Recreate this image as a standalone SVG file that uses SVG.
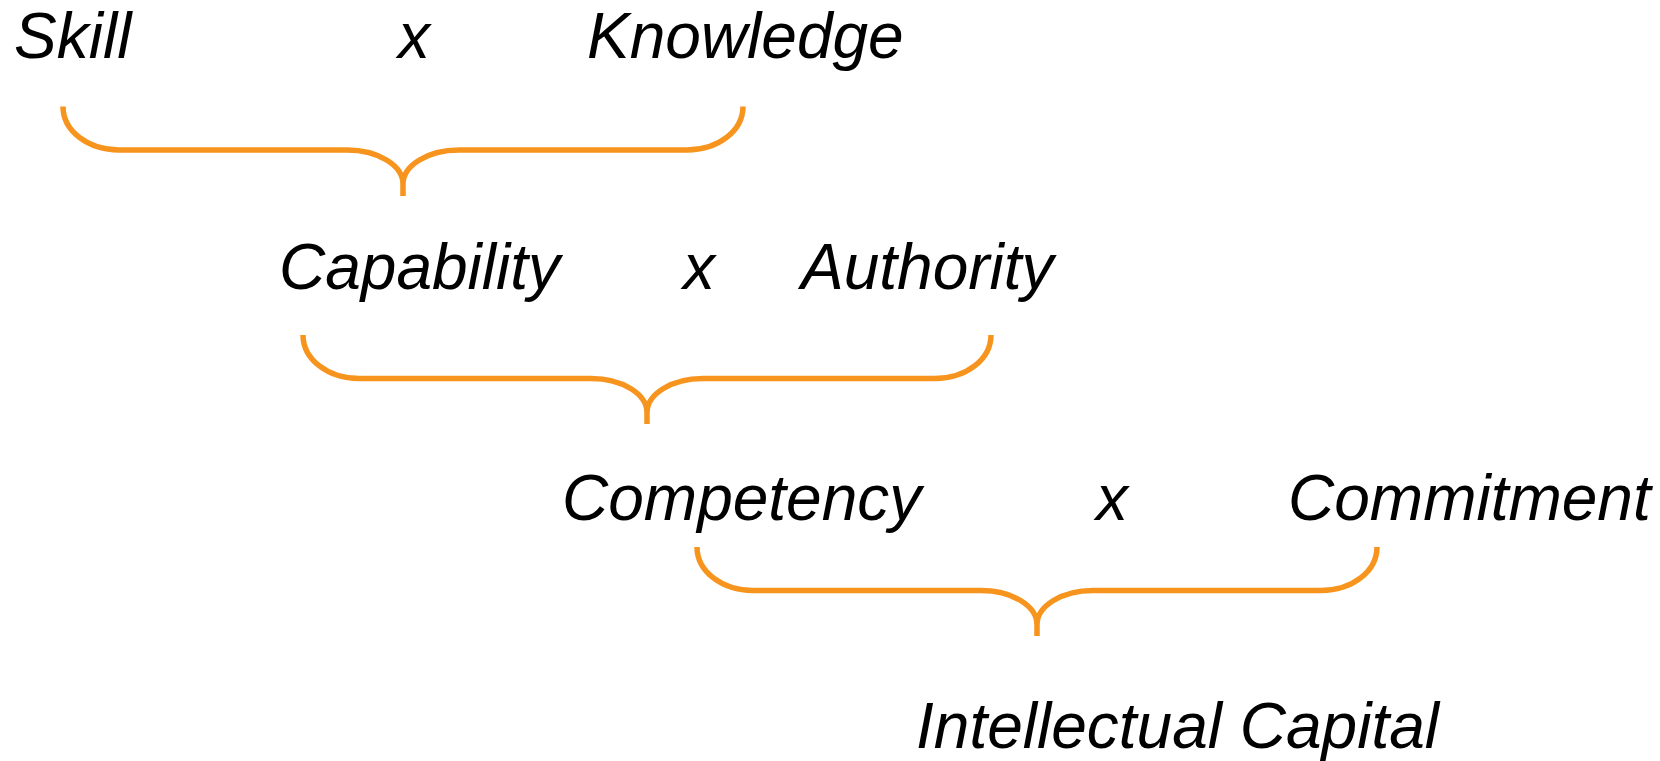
<svg xmlns="http://www.w3.org/2000/svg" width="1660" height="761" viewBox="0 0 1660 761">
  <style>
    .term { font-family: "Liberation Sans", Arial, sans-serif; font-style: italic; font-size: 64px; fill: #000; }
    .brace { fill: none; stroke: #F7941D; stroke-width: 5.5; stroke-linecap: butt; stroke-linejoin: round; }
  </style>
  <rect width="1660" height="761" fill="#fff"/>

  <g id="row1">
    <text id="skill" class="term" x="14" y="58">Skill</text>
    <text id="times1" class="term" x="398" y="58">x</text>
    <text id="knowledge" class="term" x="587" y="58">Knowledge</text>
  </g>
  <g id="row2">
    <text id="capability" class="term" x="279" y="289">Capability</text>
    <text id="times2" class="term" x="683" y="289">x</text>
    <text id="authority" class="term" x="801" y="289">Authority</text>
  </g>
  <g id="row3">
    <text id="competency" class="term" x="562" y="520">Competency</text>
    <text id="times3" class="term" x="1096" y="520">x</text>
    <text id="commitment" class="term" x="1288" y="520">Commitment</text>
  </g>
  <g id="result">
    <text id="intellectual-capital" class="term" x="916" y="748">Intellectual Capital</text>
  </g>

  <!-- curly braces joining each pair into the term below -->
  <g id="connectors">
    <path id="brace1" class="brace" d="M63,106.5 C63,131 88,150 119,150 L347,150 C379,150 403,166 403,184 L403,196 M403,184 C403,166 427,150 459,150 L687,150 C718,150 743,131 743,106.5"/>
    <path id="brace2" class="brace" d="M303,335 C303,359.5 328,378.5 359,378.5 L591,378.5 C623,378.5 647,394.5 647,412.5 L647,424 M647,412.5 C647,394.5 671,378.5 703,378.5 L935,378.5 C966,378.5 991,359.5 991,335"/>
    <path id="brace3" class="brace" d="M697,547 C697,571.5 722,590.5 753,590.5 L981,590.5 C1013,590.5 1037,606.5 1037,624.5 L1037,636 M1037,624.5 C1037,606.5 1061,590.5 1093,590.5 L1321,590.5 C1352,590.5 1377,571.5 1377,547"/>
  </g>
</svg>
